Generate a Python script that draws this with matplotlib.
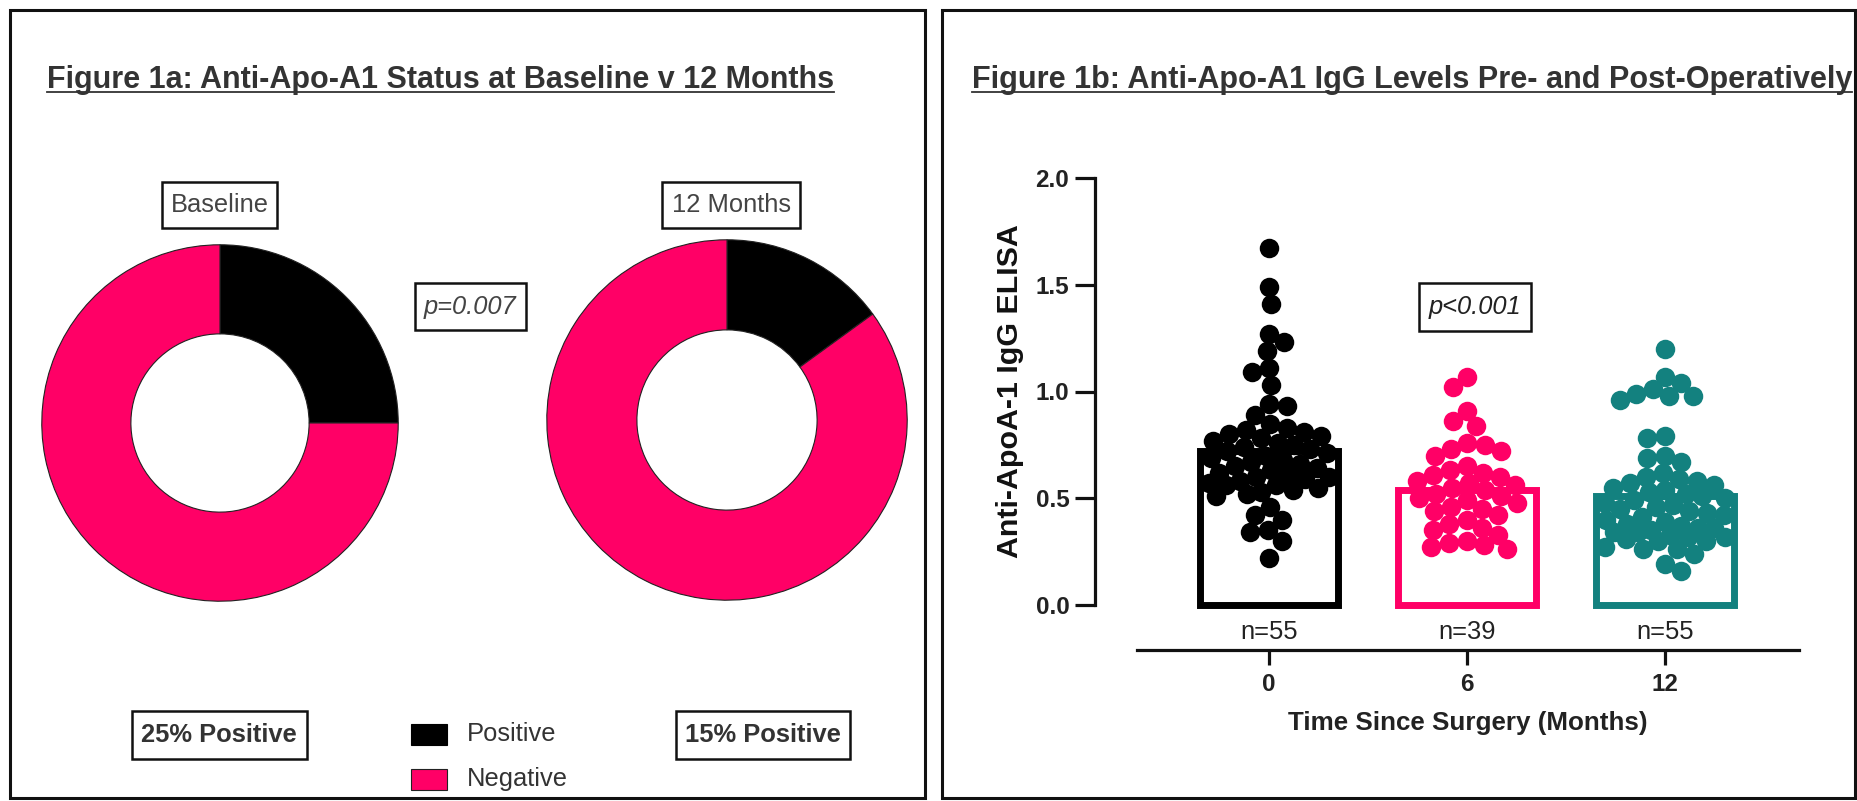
import numpy as np
import matplotlib
matplotlib.use("Agg")
import matplotlib.pyplot as plt
from matplotlib.patches import Rectangle
from matplotlib.lines import Line2D

plt.rcParams['font.family'] = ['Liberation Sans', 'DejaVu Sans']

# ---------------- data ----------------
title_a = "Figure 1a: Anti-Apo-A1 Status at Baseline v 12 Months"
title_b = "Figure 1b: Anti-Apo-A1 IgG Levels Pre- and Post-Operatively"

donut_labels = ["Baseline", "12 Months"]
positive_pct = [25, 15]
negative_pct = [75, 85]
summary_labels = ["25% Positive", "15% Positive"]
legend_labels = ["Positive", "Negative"]
donut_p = "p=0.007"

groups = ["0", "6", "12"]
n_labels = ["n=55", "n=39", "n=55"]
group_means = [0.72, 0.54, 0.51]
vals_0 = [1.67, 1.49, 1.41, 1.27, 1.23, 1.19, 1.11, 1.09, 1.03, 0.94, 0.93, 0.89,
          0.85, 0.83, 0.82, 0.81, 0.80, 0.79, 0.78, 0.77, 0.76, 0.75, 0.74, 0.73,
          0.72, 0.71, 0.70, 0.69, 0.68, 0.67, 0.66, 0.65, 0.64, 0.63, 0.62, 0.61,
          0.60, 0.60, 0.59, 0.58, 0.57, 0.56, 0.56, 0.55, 0.54, 0.53, 0.52, 0.51,
          0.46, 0.42, 0.40, 0.35, 0.34, 0.30, 0.22]
vals_6 = [1.07, 1.02, 0.91, 0.86, 0.84, 0.76, 0.75, 0.73, 0.72, 0.70,
          0.65, 0.63, 0.62, 0.61, 0.60, 0.58, 0.57, 0.56, 0.55, 0.54,
          0.52, 0.51, 0.50, 0.49, 0.48, 0.46, 0.45, 0.44, 0.42, 0.40,
          0.38, 0.36, 0.35, 0.33, 0.30, 0.29, 0.28, 0.27, 0.26]
vals_12 = [1.20, 1.07, 1.04, 1.01, 0.99, 0.98, 0.98, 0.96, 0.79, 0.78,
           0.70, 0.69, 0.67, 0.62, 0.60, 0.59, 0.58, 0.57, 0.56, 0.55,
           0.54, 0.53, 0.52, 0.51, 0.50, 0.49, 0.48, 0.47, 0.46, 0.45,
           0.44, 0.43, 0.42, 0.41, 0.40, 0.39, 0.38, 0.37, 0.36, 0.36,
           0.35, 0.34, 0.34, 0.33, 0.32, 0.32, 0.31, 0.30, 0.30,
           0.27, 0.26, 0.26, 0.24, 0.19, 0.16]
bar_p = "p<0.001"
yticks = [0.0, 0.5, 1.0, 1.5, 2.0]
ytick_labels = ["0.0", "0.5", "1.0", "1.5", "2.0"]
xlabel = "Time Since Surgery (Months)"
ylabel = "Anti-ApoA-1 IgG ELISA"

# ---------------- styling ----------------
PINK = "#FF0066"
TEAL = "#13817F"
group_colors = ["#000000", PINK, TEAL]
TXT = "#333333"

W, H, DPI = 1858, 801, 100
fig = plt.figure(figsize=(W / DPI, H / DPI), dpi=DPI)
renderer = fig.canvas.get_renderer()


def fx(px):
    return px / W


def fy(py):
    return 1 - py / H


def rect(x0, y0, x1, y1, lw=1.8, fc='none', ec='#111111', z=5):
    r = Rectangle((fx(x0), fy(y1)), (x1 - x0) / W, (y1 - y0) / H,
                  transform=fig.transFigure, facecolor=fc, edgecolor=ec,
                  linewidth=lw, zorder=z)
    fig.add_artist(r)
    return r


def ftext(x, y, s, width=None, ha='center', va='center', fs=18.4, **kw):
    t = fig.text(fx(x), fy(y), s, ha=ha, va=va, fontsize=fs, **kw)
    if width is not None:
        bb = t.get_window_extent(renderer)
        ext = max(bb.width, bb.height)
        t.set_fontsize(fs * width / ext)
    return t


# panel borders
rect(10, 10, 925, 798, lw=2.2)
rect(942, 10, 1855, 798, lw=2.2)

# titles with underline
for s, cx, w in [(title_a, 440.5, 787), (title_b, 1412, 878)]:
    t = ftext(cx, 80, s, width=w, fontweight='bold', color=TXT)
    bb = t.get_window_extent(renderer)
    fig.add_artist(Line2D([bb.x0 / W, bb.x1 / W], [fy(92), fy(92)],
                          transform=fig.transFigure, color=TXT, lw=1.3))

# ---------------- doughnuts ----------------
donut_geom = [(220, 423, 180), (727, 420, 182)]
for i, (cx, cy, r) in enumerate(donut_geom):
    ax = fig.add_axes([fx(cx - r), fy(cy + r), 2 * r / W, 2 * r / H])
    ax.pie([positive_pct[i], negative_pct[i]], colors=['black', PINK],
           startangle=90, counterclock=False, radius=1,
           wedgeprops=dict(width=0.5, edgecolor='#222222', linewidth=0.8))
    ax.set_xlim(-1.01, 1.01)
    ax.set_ylim(-1.01, 1.01)
    ax.set_aspect('equal')
    ax.axis('off')

# donut label boxes
rect(162, 182, 277, 228)
ftext(220, 205, donut_labels[0], color='#444444')
rect(662, 182, 800, 228)
ftext(731, 205, donut_labels[1], color='#444444')
rect(415, 283, 526, 330)
ftext(470, 307, donut_p, color='#444444', style='italic')
rect(132, 711, 307, 759)
ftext(219, 735, summary_labels[0], fontweight='bold', color=TXT)
rect(676, 711, 850, 759)
ftext(763, 735, summary_labels[1], fontweight='bold', color=TXT)

# legend
rect(411, 724, 447, 745, lw=0.8, fc='black', ec='black')
ftext(467, 734, legend_labels[0], ha='left', color=TXT)
rect(411, 769, 447, 790, lw=0.8, fc=PINK, ec='#222222')
ftext(467, 779, legend_labels[1], ha='left', color=TXT)

# ---------------- bar + dot plot ----------------
ax_l, ax_r, ax_t, ax_b = 1095, 1799, 178, 650   # pixel frame
x0_px, x_step = 1269, 198                         # category pixel anchors
y0_px, y_unit = 605, 213.5                        # value pixel anchors
xlim = ((ax_l - x0_px) / x_step, (ax_r - x0_px) / x_step)
ylim = ((y0_px - ax_b) / y_unit, (y0_px - ax_t) / y_unit)

ax = fig.add_axes([fx(ax_l), fy(ax_b), (ax_r - ax_l) / W, (ax_b - ax_t) / H])
ax.set_xlim(*xlim)
ax.set_ylim(*ylim)
for sp in ['top', 'right']:
    ax.spines[sp].set_visible(False)
ax.spines['left'].set_bounds(0, 2)
ax.spines['bottom'].set_bounds((1137 - x0_px) / x_step, xlim[1])
for sp in ['left', 'bottom']:
    ax.spines[sp].set_linewidth(2.3)
    ax.spines[sp].set_color('#111111')

xpos = np.arange(len(groups))
ax.bar(xpos, group_means, width=0.70, facecolor='white',
       edgecolor=group_colors, linewidth=5, zorder=2)

ax.set_yticks(yticks)
ax.set_yticklabels(ytick_labels, fontweight='bold', fontsize=17.5, color='#222222')
ax.set_xticks(xpos)
ax.set_xticklabels(groups, fontweight='bold', fontsize=17.5, color='#222222')
ax.tick_params(axis='y', length=14.5, width=2.3, pad=4, color='#111111')
ax.tick_params(axis='x', length=10.5, width=2.3, pad=6, color='#111111')

for i, s in enumerate(n_labels):
    ax.text(xpos[i], (y0_px - 632) / y_unit, s, ha='center', va='center',
            fontsize=18.4, color='#222222')

fig.canvas.draw()
sx = ax.transData.transform((1, 0))[0] - ax.transData.transform((0, 0))[0]
sy = ax.transData.transform((0, 1))[1] - ax.transData.transform((0, 0))[1]

diam_px = 19.5
ms = (diam_px * 72 / DPI) ** 2


def swarm(vals, thresh, max_half, step=1.0):
    vals = np.asarray(vals, float)
    order = np.argsort(-vals)
    placed = []
    offs = np.zeros(len(vals))
    c = np.arange(step, max_half + 1e-9, step)
    cand = np.concatenate([[0.0], np.column_stack([c, -c]).ravel()])
    for k, idx in enumerate(order):
        y = vals[idx] * sy
        if not placed:
            offs[idx] = 0.0
            placed.append((0.0, y))
            continue
        P = np.array(placed)
        best_c, best_d = 0.0, -1.0
        chosen = None
        sgn = 1 if k % 2 == 0 else -1
        for cc in cand:
            cc = cc * sgn
            d = np.min(np.hypot(P[:, 0] - cc, P[:, 1] - y))
            if d >= thresh:
                chosen = cc
                break
            if d > best_d:
                best_d, best_c = d, cc
        if chosen is None:
            chosen = best_c
        offs[idx] = chosen
        placed.append((chosen, y))
    return offs / sx


for i, vals in enumerate([vals_0, vals_6, vals_12]):
    offs = swarm(vals, thresh=0.88 * diam_px, max_half=60)
    ax.scatter(xpos[i] + offs, vals, s=ms, color=group_colors[i],
               linewidths=0, zorder=3, clip_on=False)

# p-value box on the right panel
rect(1419, 283, 1531, 331)
ftext(1475, 307, bar_p, color='#222222', style='italic')

# axis titles
ftext(1010, 391, ylabel, width=333, rotation=90, fontweight='bold', color='#111111')
ftext(1468, 723, xlabel, width=359, fontweight='bold', color='#222222')

fig.savefig("out.png", dpi=DPI)
